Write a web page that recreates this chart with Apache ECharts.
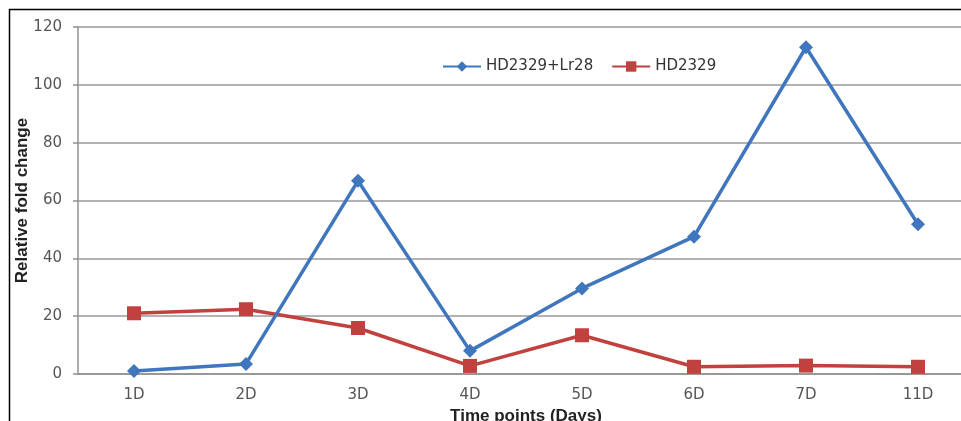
<!DOCTYPE html>
<html>
<head>
<meta charset="utf-8">
<script src="https://cdn.jsdelivr.net/npm/echarts@6/dist/echarts.min.js"></script>
<style>html,body{margin:0;padding:0;background:#fff;overflow:hidden}#c{width:974px;height:421px}</style>
</head>
<body>
<div id="c"></div>
<script>
var categories = ['1D','2D','3D','4D','5D','6D','7D','11D'];
var seriesNames = ['HD2329+Lr28','HD2329'];
var lr28Values = [1, 3.5, 66.8, 8, 29.6, 47.5, 113, 51.8];
var hd2329Values = [21, 22.4, 15.9, 2.8, 13.4, 2.5, 2.9, 2.5];
var yTicks = {min: 0, max: 120, interval: 20};

var chart = echarts.init(document.getElementById('c'), null, {renderer: 'canvas'});
var font = 'DejaVu Sans';
chart.setOption({
  animation: false,
  backgroundColor: '#fff',
  graphic: [
    {type: 'polyline', shape: {points: [[9.5, 421], [9.5, 9.5], [974, 9.5]]}, style: {stroke: '#000', lineWidth: 1.5, fill: null}, z: 100}
  ],
  grid: {left: 78, top: 27, bottom: 47, right: 0, outerBoundsMode: 'none', containLabel: false},
  legend: {
    data: seriesNames,
    left: 437, top: 54,
    itemWidth: 38, itemHeight: 13, itemGap: 18,
    textStyle: {fontFamily: font, fontSize: 15, color: '#333'}
  },
  xAxis: {
    type: 'category',
    data: categories,
    boundaryGap: true,
    axisLine: {lineStyle: {color: '#909090', width: 1.5}},
    axisTick: {show: false},
    axisLabel: {fontFamily: font, fontSize: 15, color: '#555', margin: 14},
    name: 'Time points (Days)',
    nameLocation: 'middle',
    nameGap: 34,
    nameMoveOverlap: false,
    nameTextStyle: {fontFamily: 'Liberation Sans', fontWeight: 'bold', fontSize: 17, color: '#222'}
  },
  yAxis: {
    type: 'value',
    min: yTicks.min, max: yTicks.max, interval: yTicks.interval,
    axisLine: {show: true, lineStyle: {color: '#909090', width: 1.5}},
    axisTick: {show: true, length: 5, lineStyle: {color: '#909090', width: 1.5}},
    splitLine: {lineStyle: {color: '#9a9a9a', width: 1.5}},
    axisLabel: {fontFamily: font, fontSize: 15, color: '#555', margin: 16},
    name: 'Relative fold change',
    nameLocation: 'middle',
    nameGap: 47,
    nameMoveOverlap: false,
    nameTextStyle: {fontFamily: 'Liberation Sans', fontWeight: 'bold', fontSize: 17, color: '#222'}
  },
  series: [
    {
      name: seriesNames[0], type: 'line', data: lr28Values,
      symbol: 'diamond', symbolSize: 14,
      lineStyle: {color: '#3f76bd', width: 3.5},
      itemStyle: {color: '#3f76bd'},
      z: 3
    },
    {
      name: seriesNames[1], type: 'line', data: hd2329Values,
      symbol: 'rect', symbolSize: 14,
      lineStyle: {color: '#c0413e', width: 3.5},
      itemStyle: {color: '#c0413e'},
      z: 2
    }
  ]
});
</script>
</body>
</html>
